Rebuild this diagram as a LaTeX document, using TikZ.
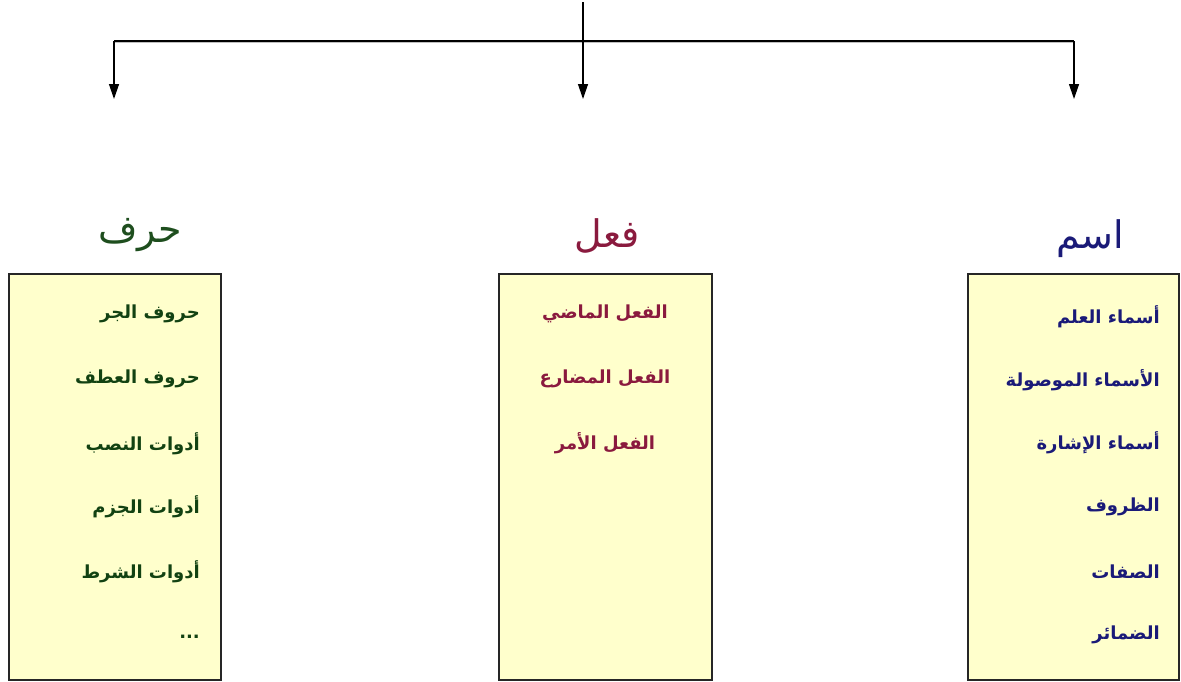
\documentclass[tikz,border=0pt]{standalone}
\usepackage{fontspec}
\usetikzlibrary{arrows.meta}
\TeXXeTstate=1
\newfontfamily\arabicfont[Script=Arabic]{DejaVu Sans}
\definecolor{boxfill}{HTML}{FFFFCC}
\definecolor{hgreen}{HTML}{124212}
\definecolor{tgreen}{HTML}{1E4E1E}
\definecolor{hred}{HTML}{8A1A3E}
\definecolor{hblue}{HTML}{1A1A78}
\tikzset{
  conn/.style={line width=1.3pt, draw=black},
  arr/.style={conn, -{Triangle[width=10pt,length=15pt]}},
  catbox/.style={draw=black!85, line width=1.6pt, fill=boxfill},
  title/.style={font=\arabicfont\fontsize{38}{42}\selectfont, inner sep=0pt},
  item/.style={font=\arabicfont\bfseries\fontsize{18}{21}\selectfont, inner sep=0pt},
}
\begin{document}
\begin{tikzpicture}[x=1pt,y=1pt]
\useasboundingbox (0,0) rectangle (1181,-681);
% connectors
\coordinate (top) at (583,-2);
\coordinate (jl) at (114,-41);
\coordinate (jm) at (583,-41);
\coordinate (jr) at (1074,-41);
\coordinate (tl) at (114,-99);
\coordinate (tm) at (583,-99);
\coordinate (tr) at (1074,-99);
\draw[conn, line width=1.6pt, draw=black!25] ([yshift=-1.5pt]jl) -- ([yshift=-1.5pt]jr);
\draw[conn, line width=1.8pt] (jl) -- (jr);
\draw[arr] (top) -- (tm);
\draw[arr] (jl) -- (tl);
\draw[arr] (jr) -- (tr);
% boxes
\node[catbox, minimum width=212pt, minimum height=406pt, anchor=north west] (bl) at (8,-273) {};
\node[catbox, minimum width=213pt, minimum height=406pt, anchor=north west] (bm) at (498,-273) {};
\node[catbox, minimum width=211pt, minimum height=406pt, anchor=north west] (br) at (967,-273) {};
% titles
\node[title, text=tgreen] (hl) at (140,-235) {\beginR حرف\endR};
\node[title, text=hred] (hm) at (607,-236) {\beginR فعل\endR};
\node[title, text=hblue] (hr) at (1090,-239) {\beginR اسم\endR};
% left items
\begin{scope}[every node/.style={item, text=hgreen, anchor=east}]
\node (l1) at (200,-314) {\beginR حروف الجر\endR};
\node (l2) at (200,-379) {\beginR حروف العطف\endR};
\node (l3) at (200,-444) {\beginR أدوات النصب\endR};
\node (l4) at (200,-507) {\beginR أدوات الجزم\endR};
\node (l5) at (200,-572) {\beginR أدوات الشرط\endR};
\node (l6) at (200,-637) {...};
\end{scope}
% middle items
\begin{scope}[every node/.style={item, text=hred}]
\node (m1) at (605,-314) {\beginR الفعل الماضي\endR};
\node (m2) at (605,-379) {\beginR الفعل المضارع\endR};
\node (m3) at (605,-443) {\beginR الفعل الأمر\endR};
\end{scope}
% right items
\begin{scope}[every node/.style={item, text=hblue, anchor=east}]
\node (r1) at (1160,-317) {\beginR أسماء العلم\endR};
\node (r2) at (1160,-380) {\beginR الأسماء الموصولة\endR};
\node (r3) at (1160,-443) {\beginR أسماء الإشارة\endR};
\node (r4) at (1160,-507) {\beginR الظروف\endR};
\node (r5) at (1160,-572) {\beginR الصفات\endR};
\node (r6) at (1160,-635) {\beginR الضمائر\endR};
\end{scope}
\end{tikzpicture}
\end{document}
